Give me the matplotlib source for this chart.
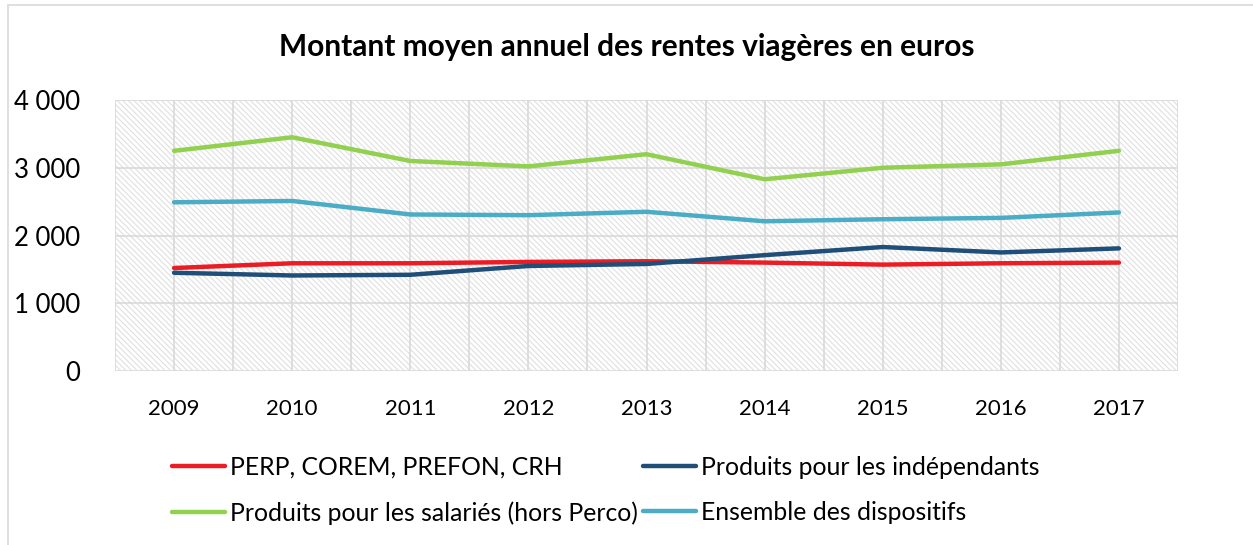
import matplotlib
matplotlib.use('Agg')
import matplotlib.pyplot as plt
from matplotlib.patches import Rectangle
from matplotlib.ticker import FuncFormatter

years = ['2009', '2010', '2011', '2012', '2013', '2014', '2015', '2016', '2017']
perp = [1520, 1590, 1590, 1610, 1620, 1600, 1570, 1590, 1600]
independants = [1450, 1410, 1420, 1550, 1580, 1710, 1830, 1750, 1810]
salaries = [3250, 3450, 3100, 3020, 3200, 2830, 3000, 3050, 3250]
ensemble = [2490, 2510, 2310, 2300, 2350, 2210, 2240, 2260, 2340]

labels = ['PERP, COREM, PREFON, CRH', 'Produits pour les indépendants',
          'Produits pour les salariés (hors Perco)', 'Ensemble des dispositifs']
colors = ['#EC1C24', '#1F4E79', '#92D050', '#4BACC6']

plt.rcParams['font.family'] = ['Lato', 'DejaVu Sans']
plt.rcParams['hatch.linewidth'] = 0.8

fig = plt.figure(figsize=(12.53, 5.45), dpi=100)
ax = fig.add_axes([115 / 1253, 1 - 371 / 545, 1063 / 1253, 271 / 545])

# outer chart frame
fig.patches.append(Rectangle((8 / 1253, -0.05), 1.1, 1 - 5 / 545 + 0.05, transform=fig.transFigure,
                             fill=False, ec='#d9d9d9', lw=1.2))

# hatched plot background
ax.add_patch(Rectangle((0, 0), 1, 1, transform=ax.transAxes, fc='white', ec='#e0e0e0',
                       hatch='\\\\\\\\\\\\', lw=0, zorder=0))

x = list(range(len(years)))
series = [perp, independants, salaries, ensemble]
handles = []
for vals, c, lab in zip(series, colors, labels):
    h, = ax.plot(x, vals, color=c, lw=3.2, label=lab, solid_capstyle='round', zorder=3)
    handles.append(h)

ax.set_xlim(-0.5, len(years) - 0.5)
ax.set_ylim(0, 4000)
ax.set_yticks([0, 1000, 2000, 3000, 4000])
ax.yaxis.set_major_formatter(FuncFormatter(lambda v, p: '{:,.0f}'.format(v).replace(',', ' ')))
ax.set_xticks(x)
ax.set_xticklabels(years)
ax.set_xticks([i - 0.5 for i in range(len(years) + 1)], minor=True)

ax.grid(True, which='major', color='#d9d9d9', lw=1.2, zorder=1)
ax.grid(True, which='minor', axis='x', color='#d9d9d9', lw=1.2, zorder=1)
for s in ax.spines.values():
    s.set_visible(False)
ax.tick_params(which='both', length=0)
ax.tick_params(axis='x', labelsize=16, pad=20)
ax.tick_params(axis='y', labelsize=18.5, pad=25)

fig.text(0.5, 1 - 47 / 545, 'Montant moyen annuel des rentes viagères en euros',
         ha='center', va='center', fontsize=21.5, fontweight='bold')

# legend fills column-wise, so order entries to read row by row
order = [0, 2, 1, 3]
fig.legend(handles=[handles[i] for i in order], labels=[labels[i] for i in order], ncol=2,
           loc='upper left', bbox_to_anchor=(162 / 1253, 1 - 446 / 545), frameon=False,
           fontsize=17.8, handlelength=2.15, handletextpad=0.2, columnspacing=0.2,
           labelspacing=0.9, borderaxespad=0)

fig.savefig('out.png', dpi=100)
